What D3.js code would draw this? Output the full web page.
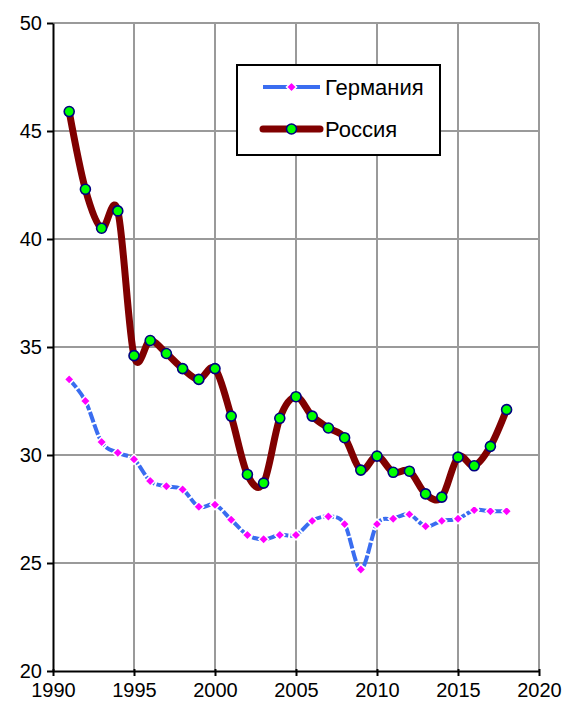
<!DOCTYPE html>
<html>
<head>
<meta charset="utf-8">
<script src="https://cdn.jsdelivr.net/npm/d3@7"></script>
<style>
  body { margin: 0; background: #fff; }
  text { font-family: "Liberation Sans", Arial, sans-serif; }
</style>
</head>
<body>
<script>
// data
var years = [1991, 1992, 1993, 1994, 1995, 1996, 1997, 1998, 1999, 2000,
             2001, 2002, 2003, 2004, 2005, 2006, 2007, 2008, 2009, 2010,
             2011, 2012, 2013, 2014, 2015, 2016, 2017, 2018];
var germany = [33.5, 32.5, 30.6, 30.1, 29.8, 28.8, 28.55, 28.4, 27.6, 27.7,
               27.0, 26.3, 26.1, 26.3, 26.3, 26.95, 27.15, 26.8, 24.7, 26.8,
               27.05, 27.25, 26.7, 26.95, 27.05, 27.45, 27.4, 27.4];
var russia = [45.9, 42.3, 40.5, 41.3, 34.6, 35.3, 34.7, 34.0, 33.5, 34.0,
              31.8, 29.1, 28.7, 31.7, 32.7, 31.8, 31.25, 30.8, 29.3, 29.95,
              29.2, 29.25, 28.2, 28.05, 29.9, 29.5, 30.4, 32.1];
var xTicks = [1990, 1995, 2000, 2005, 2010, 2015, 2020];
var yTicks = [20, 25, 30, 35, 40, 45, 50];
var names = ["Германия", "Россия"];

var W = 564, H = 706;
var margin = {top: 23, right: 25, bottom: 35, left: 53},
    width = W - margin.left - margin.right,
    height = H - margin.top - margin.bottom;

var svg = d3.select("body").append("svg")
    .attr("width", W)
    .attr("height", H);
var g = svg.append("g")
    .attr("transform", "translate(" + margin.left + "," + margin.top + ")");

var x = d3.scaleLinear().domain([1990, 2020]).range([0, width]);
var y = d3.scaleLinear().domain([20, 50]).range([height, 0]);

// grid
g.selectAll(".vgrid").data(xTicks.slice(1)).enter().append("line")
    .attr("x1", function(d) { return x(d); })
    .attr("x2", function(d) { return x(d); })
    .attr("y1", 0).attr("y2", height)
    .attr("stroke", "#9a9a9a").attr("stroke-width", 2);
g.selectAll(".hgrid").data(yTicks.slice(1)).enter().append("line")
    .attr("x1", 0).attr("x2", width)
    .attr("y1", function(d) { return y(d); })
    .attr("y2", function(d) { return y(d); })
    .attr("stroke", "#9a9a9a").attr("stroke-width", 2);

// axes
var xAxis = d3.axisBottom(x).tickValues(xTicks).tickFormat(d3.format("d"))
    .tickSizeInner(5).tickSizeOuter(0).tickPadding(7);
var yAxis = d3.axisLeft(y).tickValues(yTicks)
    .tickSizeInner(6).tickSizeOuter(0).tickPadding(5);

var gx = g.append("g")
    .attr("transform", "translate(0," + height + ")")
    .call(xAxis);
var gy = g.append("g").call(yAxis);
[gx, gy].forEach(function(a) {
  a.select(".domain").attr("stroke", "#000").attr("stroke-width", 2);
  a.selectAll(".tick line").attr("stroke", "#000").attr("stroke-width", 2);
  a.selectAll(".tick text").attr("fill", "#000").style("font-size", "20px")
    .style("font-family", "'Liberation Sans', Arial, sans-serif");
});
gx.selectAll(".tick line").attr("y1", -2);

var curve = d3.curveCardinal.tension(0);

var gerData = years.map(function(yr, i) { return [yr, germany[i]]; });
var rusData = years.map(function(yr, i) { return [yr, russia[i]]; });

var line = d3.line()
    .x(function(d) { return x(d[0]); })
    .y(function(d) { return y(d[1]); })
    .curve(curve);

// Germany
g.append("path").datum(gerData)
    .attr("d", line)
    .attr("fill", "none")
    .attr("stroke", "#3a6df0")
    .attr("stroke-width", 4)
    .attr("stroke-dasharray", "11,2");

// square diamond marker
var diamond = "M0,-5L5,0L0,5L-5,0Z";
g.selectAll(".gdot").data(gerData).enter().append("path")
    .attr("d", diamond)
    .attr("transform", function(d) { return "translate(" + x(d[0]) + "," + y(d[1]) + ")"; })
    .attr("fill", "#ff00ff")
    .attr("stroke", "#fff")
    .attr("stroke-width", 1.5);

// Russia
g.append("path").datum(rusData)
    .attr("d", line)
    .attr("fill", "none")
    .attr("stroke", "#800000")
    .attr("stroke-width", 7)
    .attr("stroke-linejoin", "round");

g.selectAll(".rdot").data(rusData).enter().append("circle")
    .attr("cx", function(d) { return x(d[0]); })
    .attr("cy", function(d) { return y(d[1]); })
    .attr("r", 5)
    .attr("fill", "#00ff00")
    .attr("stroke", "#000080")
    .attr("stroke-width", 1.6);

// legend
var lg = svg.append("g").attr("transform", "translate(237,65)");
lg.append("rect")
    .attr("width", 203).attr("height", 90)
    .attr("fill", "#fff")
    .attr("stroke", "#000").attr("stroke-width", 2);

lg.append("line")
    .attr("x1", 26).attr("x2", 83).attr("y1", 22).attr("y2", 22)
    .attr("stroke", "#3a6df0").attr("stroke-width", 4);
lg.append("path").attr("d", diamond)
    .attr("transform", "translate(54.5,22)")
    .attr("fill", "#ff00ff").attr("stroke", "#fff").attr("stroke-width", 1.5);
lg.append("line")
    .attr("x1", 26).attr("x2", 83).attr("y1", 64).attr("y2", 64)
    .attr("stroke", "#800000").attr("stroke-width", 7).attr("stroke-linecap", "round");
lg.append("circle").attr("cx", 54.5).attr("cy", 64).attr("r", 5)
    .attr("fill", "#00ff00").attr("stroke", "#000080").attr("stroke-width", 1.6);

lg.selectAll(".ltxt").data(names).enter().append("text")
    .attr("x", 88)
    .attr("y", function(d, i) { return i === 0 ? 30 : 72; })
    .style("font-size", "22px")
    .attr("fill", "#000")
    .text(function(d) { return d; });
</script>
</body>
</html>
